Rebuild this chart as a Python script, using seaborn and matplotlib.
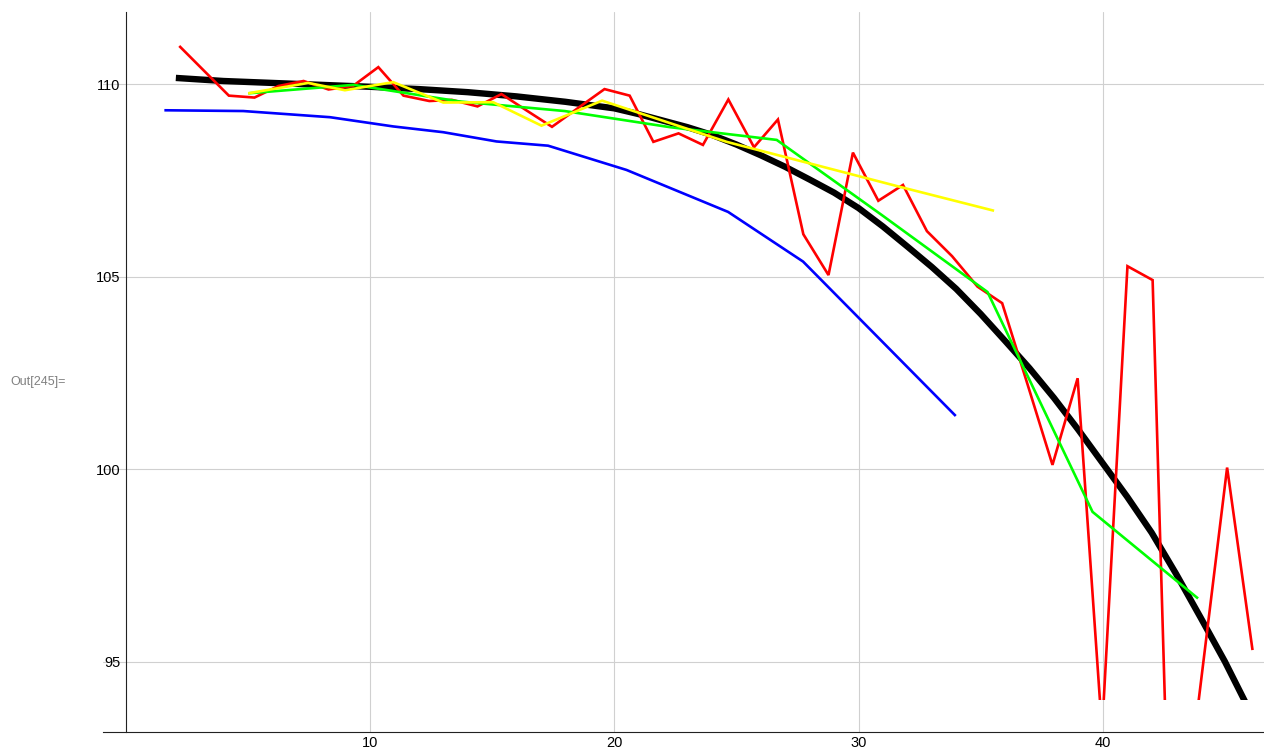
import matplotlib
matplotlib.use("Agg")
import matplotlib.pyplot as plt
import seaborn as sns
import numpy as np
from matplotlib.patches import Rectangle
from matplotlib.ticker import MultipleLocator

sns.set_theme(style="white")
plt.rcParams['font.family'] = ['Liberation Sans', 'DejaVu Sans']

# ---- data ----
fit_x = [2.05, 4, 6, 8, 10, 12, 14, 16, 18, 20, 21, 22, 23, 24, 25, 26, 27, 28, 29, 30, 31, 32,
         33, 34, 35, 36, 37, 38, 39, 40, 41, 42, 43, 44, 45, 46]
fit_y = [110.16, 110.08, 110.03, 109.98, 109.93, 109.87, 109.79, 109.68, 109.54, 109.37, 109.22,
         109.05, 108.88, 108.68, 108.43, 108.15, 107.85, 107.52, 107.18, 106.78, 106.30, 105.78,
         105.25, 104.68, 104.03, 103.33, 102.62, 101.85, 101.02, 100.15, 99.28, 98.35, 97.28,
         96.15, 95.00, 93.74]

blue_x = [1.58, 4.81, 8.36, 10.95, 13.0, 15.18, 17.29, 20.5, 24.66, 27.73, 33.98]
blue_y = [109.32, 109.30, 109.14, 108.90, 108.75, 108.51, 108.40, 107.77, 106.68, 105.39, 101.38]

red_x = [2.19, 4.22, 5.27, 6.25, 7.28, 8.30, 9.30, 10.34, 11.37, 12.43, 13.35, 14.40, 15.38, 16.42,
         17.45, 18.52, 19.60, 20.63, 21.60, 22.63, 23.63, 24.67, 25.72, 26.70, 27.74, 28.77, 29.77,
         30.81, 31.82, 32.80, 33.83, 34.87, 35.88, 36.92, 37.94, 38.97, 39.97, 41.01, 42.04, 43.00,
         43.85, 45.09, 46.13]
red_y = [110.99, 109.70, 109.65, 109.95, 110.08, 109.86, 109.95, 110.44, 109.70, 109.56, 109.59,
         109.42, 109.74, 109.31, 108.89, 109.38, 109.87, 109.70, 108.50, 108.72, 108.42, 109.60,
         108.36, 109.08, 106.10, 105.04, 108.22, 106.97, 107.38, 106.18, 105.53, 104.74, 104.31,
         102.20, 100.11, 102.36, 93.20, 105.27, 104.91, 84.00, 93.60, 100.04, 95.30]

green_x = [5.01, 9.33, 13.65, 17.97, 22.29, 26.65, 30.95, 35.28, 39.58, 43.90]
green_y = [109.76, 109.98, 109.55, 109.30, 108.88, 108.55, 106.60, 104.60, 98.89, 96.64]

yellow_x = [5.01, 7.47, 8.97, 10.95, 13.0, 15.04, 17.02, 19.5, 24.6, 31.7, 35.55]
yellow_y = [109.76, 110.03, 109.84, 110.05, 109.52, 109.53, 108.92, 109.57, 108.50, 107.33, 106.71]

x_ticks = [10, 20, 30, 40]
y_ticks = [95, 100, 105, 110]
clip_low = 94.0

# ---- figure ----
W, H = 1264, 752
fig = plt.figure(figsize=(W / 100, H / 100), dpi=100)
ax = fig.add_axes([103.3 / W, (H - 731.7) / H, (W - 103.3) / W, (731.7 - 11.7) / H])
ax.set_xlim(-0.92, 46.6)
ax.set_ylim(93.18, 111.88)

clip_rect = Rectangle((-5, clip_low), 60, 30, transform=ax.transData, facecolor='none', edgecolor='none')

series = [
    (fit_x, fit_y, 'black', 4.6),
    (blue_x, blue_y, '#0000FF', 1.9),
    (red_x, red_y, '#FF0000', 1.9),
    (green_x, green_y, '#00FF00', 1.9),
    (yellow_x, yellow_y, '#FFFF00', 1.9),
]
for i, (xs, ys, c, lw) in enumerate(series):
    sns.lineplot(x=xs, y=ys, color=c, linewidth=lw, ax=ax, estimator=None, sort=False,
                 zorder=3 + i)
    line = ax.lines[-1]
    line.set_solid_capstyle('butt')
    line.set_solid_joinstyle('round' if i == 0 else 'miter')
    line.set_clip_path(clip_rect)

# axes styling (Mathematica-like)
for s in ['top', 'right']:
    ax.spines[s].set_visible(False)
ax.spines['left'].set_position(('data', 0))
for s in ['left', 'bottom']:
    ax.spines[s].set_color('#222222')
    ax.spines[s].set_linewidth(0.8)

ax.set_xticks(x_ticks)
ax.set_xticklabels([str(t) for t in x_ticks])
ax.set_yticks(y_ticks)
ax.set_yticklabels([str(t) for t in y_ticks])
ax.xaxis.set_minor_locator(MultipleLocator(2))
ax.yaxis.set_minor_locator(MultipleLocator(1))
ax.tick_params(axis='both', which='major', direction='in', length=5.5, width=0.8,
               color='#222222', labelsize=10.5, labelcolor='black', pad=4)
ax.tick_params(axis='both', which='minor', direction='in', length=3, width=0.8, color='#222222')
ax.tick_params(axis='x', which='major', pad=3)
ax.grid(True, which='major', color='#d0d0d0', linewidth=0.8)
ax.set_axisbelow(True)
ax.patch.set_alpha(0)

fig.text(10 / W, 1 - 382 / H, "Out[245]=", fontsize=9, color='#808080', va='center', ha='left')

fig.savefig("out.png", dpi=100)
